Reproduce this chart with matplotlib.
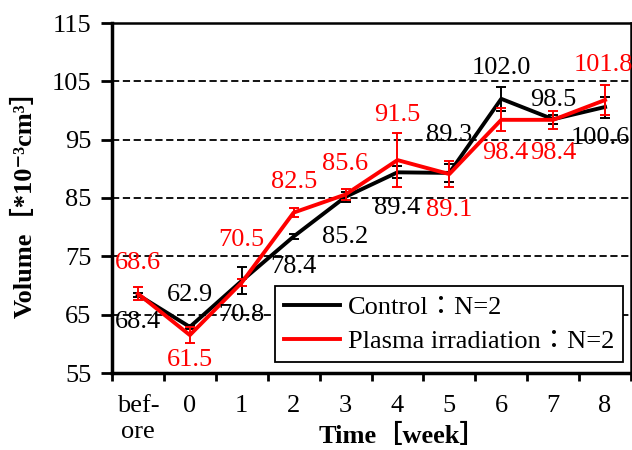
import matplotlib
matplotlib.use("Agg")
import matplotlib.pyplot as plt
from matplotlib.lines import Line2D
import numpy as np

# data
weeks = ["bef-\nore", "0", "1", "2", "3", "4", "5", "6", "7", "8"]
control = [68.4, 62.9, 70.8, 78.4, 85.2, 89.4, 89.3, 102.0, 98.5, 100.6]
control_err = [0.3, 0.4, 2.3, 0.4, 0.9, 1.0, 1.5, 2.0, 0.8, 1.8]
plasma = [68.6, 61.5, 70.5, 82.5, 85.6, 91.5, 89.1, 98.4, 98.4, 101.8]
plasma_err = [1.1, 1.3, 0.6, 0.8, 1.0, 4.6, 2.2, 2.0, 1.5, 2.5]
series_names = ["Control：N=2", "Plasma irradiation：N=2"]

# label offsets in pixels (dx, dy up)
control_off = [(0, -27), (0, 32), (0, -34), (0, -31), (0, -40),
               (0, -36), (0, 38), (0, 31), (0, 19), (-5, -31)]
plasma_off = [(0, 31), (0, -25), (0, 43), (0, 31), (0, 31),
              (0, 45), (0, -36), (4, -33), (0, -33), (-2, 35)]

fam = ["Liberation Serif", "Noto Sans CJK JP", "DejaVu Serif"]
plt.rcParams["font.family"] = fam
plt.rcParams["font.size"] = 19

RED = "#ff0000"

fig = plt.figure(figsize=(6.32, 4.5), dpi=100)
ax = fig.add_axes([112 / 632, 1 - 373 / 450, 519 / 632, 350 / 450])

x = np.arange(len(weeks))
ax.errorbar(x, control, yerr=control_err, color="black", lw=2.8,
            elinewidth=1.4, capsize=3.5, capthick=1.4, zorder=3)
ax.errorbar(x, plasma, yerr=plasma_err, color=RED, lw=2.8,
            elinewidth=1.4, capsize=3.5, capthick=1.4, zorder=4)

px = 0.72  # points per pixel at 100 dpi
for i in range(len(x)):
    ax.annotate(f"{control[i]:.1f}", (x[i], control[i]),
                xytext=(control_off[i][0] * px, control_off[i][1] * px),
                textcoords="offset points", ha="center", va="center",
                color="black", annotation_clip=False, zorder=5)
    ax.annotate(f"{plasma[i]:.1f}", (x[i], plasma[i]),
                xytext=(plasma_off[i][0] * px, plasma_off[i][1] * px),
                textcoords="offset points", ha="center", va="center",
                color=RED, annotation_clip=False, zorder=5)

ax.set_ylim(55, 115)
ax.set_yticks(np.arange(55, 116, 10))
ax.set_xlim(-0.5, len(weeks) - 0.5)
ax.set_xticks(np.arange(-0.5, len(weeks), 1.0))
ax.set_xticklabels([])
ax.set_xticks(x, minor=True)
ax.set_xticklabels(weeks, minor=True)
ax.tick_params(axis="x", which="major", direction="out", length=6, width=2)
ax.tick_params(axis="x", which="minor", length=0, pad=16)
ax.tick_params(axis="y", direction="out", length=8, width=2, pad=7)

for v in range(65, 106, 10):
    ax.axhline(v, color="black", lw=1.3, linestyle=(0, (4, 2)), zorder=1)

ax.spines["left"].set_linewidth(2.5)
ax.spines["bottom"].set_linewidth(2.5)
ax.spines["top"].set_linewidth(1.8)
ax.spines["right"].set_linewidth(1.8)

ax.set_ylabel("Volume［*10⁻³cm³］", fontweight="bold")
ax.yaxis.set_label_coords(-0.145, 0.5)
ax.set_xlabel("Time［week］", fontweight="bold", va="top")
ax.xaxis.set_label_coords(0.56, -0.145)

handles = [Line2D([], [], color="black", lw=2.8),
           Line2D([], [], color=RED, lw=2.8)]
leg = ax.legend(handles, series_names, loc="lower right",
                bbox_to_anchor=(0.985, 0.031), borderaxespad=0,
                fancybox=False, frameon=True, framealpha=1,
                edgecolor="black", handlelength=2.1,
                handletextpad=0.3, labelspacing=0.4, borderpad=0.35)
leg.get_frame().set_linewidth(1.3)
leg.set_zorder(6)

fig.savefig("out.png", dpi=100)
